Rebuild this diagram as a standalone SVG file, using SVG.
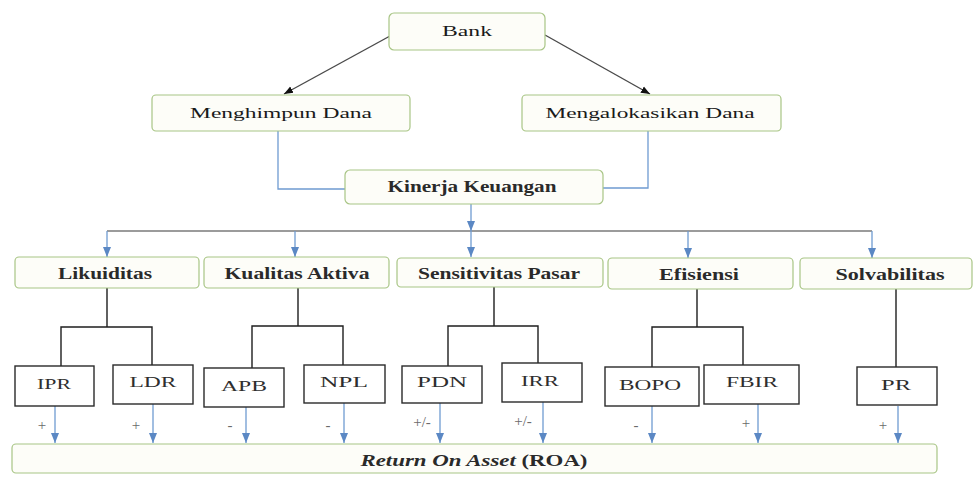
<svg xmlns="http://www.w3.org/2000/svg" width="976" height="477" viewBox="0 0 976 477" font-family="'Liberation Serif', 'Times New Roman', serif">
<defs>
<style>
.nb{fill:#fdfdf8;stroke:#a8c585;stroke-width:1.2}
.sq{fill:#ffffff;stroke:#2a2a2a;stroke-width:1.4}
text{text-anchor:middle}
.t{font-size:15px;fill:#1a1a1a}
.tb{font-size:16px;font-weight:bold;fill:#2a2a2a}
.tc{font-size:15px;fill:#2e2e2e}
.sg{font-size:15px;fill:#6a6a6a}
.blue{fill:none;stroke:#6f9bd1;stroke-width:1.3}
.grey{fill:none;stroke:#7a7a7a;stroke-width:1.5}
.blk{fill:none;stroke:#1e1e1e;stroke-width:1.4}
.dk{fill:none;stroke:#4a4a4a;stroke-width:1.4}
</style>
<marker id="ab" markerUnits="userSpaceOnUse" markerWidth="10" markerHeight="10" viewBox="0 0 10 10" refX="10" refY="5" orient="auto">
<path d="M0,1 L10,5 L0,9 Z" fill="#5b88c4"/>
</marker>
<marker id="ak" markerUnits="userSpaceOnUse" markerWidth="9" markerHeight="9" viewBox="0 0 10 10" refX="10" refY="5" orient="auto">
<path d="M0,1 L10,5 L0,9 Z" fill="#111"/>
</marker>
</defs>
<rect width="976" height="477" fill="#ffffff"/>

<g id="connectors">
<line class="dk" x1="390" y1="36" x2="284" y2="94" marker-end="url(#ak)"/>
<line class="dk" x1="545" y1="35" x2="650" y2="94" marker-end="url(#ak)"/>
<path class="blue" d="M278,131 V189 H345"/>
<path class="blue" d="M648,131 V188 H603"/>
<path class="grey" d="M107,231 H872"/>
<path class="blue" d="M471,204 V231" marker-end="url(#ab)"/>
<path class="blue" d="M471,231 V257" marker-end="url(#ab)"/>
<path class="blue" d="M107,231 V257" marker-end="url(#ab)"/>
<path class="blue" d="M295,231 V257" marker-end="url(#ab)"/>
<path class="blue" d="M688,231 V258" marker-end="url(#ab)"/>
<path class="blue" d="M872,231 V258" marker-end="url(#ab)"/>
<path class="blk" d="M107,288 V327 M61,366 V327 H152 V365"/>
<path class="blk" d="M298,288 V326 M252,368 V326 H343 V365"/>
<path class="blk" d="M494,287 V326 M448,366 V326 H538 V363"/>
<path class="blk" d="M697,289 V327 M652,367 V327 H743 V365"/>
<path class="blk" d="M896,289 V367"/>
<path class="blue" d="M55,406 V443" marker-end="url(#ab)"/>
<path class="blue" d="M153,404 V443" marker-end="url(#ab)"/>
<path class="blue" d="M246,407 V443" marker-end="url(#ab)"/>
<path class="blue" d="M344,403 V443" marker-end="url(#ab)"/>
<path class="blue" d="M440,403 V443" marker-end="url(#ab)"/>
<path class="blue" d="M543,402 V443" marker-end="url(#ab)"/>
<path class="blue" d="M652,406 V443" marker-end="url(#ab)"/>
<path class="blue" d="M758,404 V443" marker-end="url(#ab)"/>
<path class="blue" d="M898,406 V443" marker-end="url(#ab)"/>
</g>

<g id="signs">
<text class="sg" x="42" y="430">+</text>
<text class="sg" x="136" y="430">+</text>
<text class="sg" x="230" y="430">-</text>
<text class="sg" x="328" y="430">-</text>
<text class="sg" x="422" y="427">+/-</text>
<text class="sg" x="523" y="426">+/-</text>
<text class="sg" x="636" y="430">-</text>
<text class="sg" x="746" y="428">+</text>
<text class="sg" x="883" y="430">+</text>
</g>

<g id="bank"><rect class="nb" x="389" y="13" width="156" height="37" rx="5"/><text class="t" x="467" y="36" textLength="50" lengthAdjust="spacingAndGlyphs">Bank</text></g>
<g id="menghimpun"><rect class="nb" x="152" y="95" width="258" height="36" rx="4"/><text class="t" x="281" y="118" textLength="182" lengthAdjust="spacingAndGlyphs">Menghimpun Dana</text></g>
<g id="mengalokasikan"><rect class="nb" x="522" y="95" width="259" height="36" rx="4"/><text class="t" x="650" y="118" textLength="209" lengthAdjust="spacingAndGlyphs">Mengalokasikan Dana</text></g>
<g id="kinerja"><rect class="nb" x="345" y="170" width="258" height="34" rx="5"/><text class="tb" x="472" y="192" textLength="169" lengthAdjust="spacingAndGlyphs">Kinerja Keuangan</text></g>

<g id="likuiditas"><rect class="nb" x="15" y="257" width="184" height="31" rx="4"/><text class="tb" x="105" y="279" textLength="94" lengthAdjust="spacingAndGlyphs">Likuiditas</text></g>
<g id="kualitas"><rect class="nb" x="204" y="257" width="185" height="31" rx="4"/><text class="tb" x="297" y="279" textLength="145" lengthAdjust="spacingAndGlyphs">Kualitas Aktiva</text></g>
<g id="sensitivitas"><rect class="nb" x="397" y="258" width="206" height="29" rx="4"/><text class="tb" x="499" y="279" textLength="162" lengthAdjust="spacingAndGlyphs">Sensitivitas Pasar</text></g>
<g id="efisiensi"><rect class="nb" x="608" y="258" width="185" height="31" rx="4"/><text class="tb" x="699" y="280" textLength="80" lengthAdjust="spacingAndGlyphs">Efisiensi</text></g>
<g id="solvabilitas"><rect class="nb" x="800" y="258" width="172" height="31" rx="4"/><text class="tb" x="890" y="280" textLength="109" lengthAdjust="spacingAndGlyphs">Solvabilitas</text></g>

<g id="ipr"><rect class="sq" x="15" y="366" width="79" height="40"/><text class="tc" x="54" y="389" textLength="34" lengthAdjust="spacingAndGlyphs">IPR</text></g>
<g id="ldr"><rect class="sq" x="113" y="365" width="80" height="39"/><text class="tc" x="153" y="387" textLength="47" lengthAdjust="spacingAndGlyphs">LDR</text></g>
<g id="apb"><rect class="sq" x="204" y="368" width="80" height="39"/><text class="tc" x="244" y="391" textLength="46" lengthAdjust="spacingAndGlyphs">APB</text></g>
<g id="npl"><rect class="sq" x="304" y="365" width="81" height="38"/><text class="tc" x="344" y="387" textLength="48" lengthAdjust="spacingAndGlyphs">NPL</text></g>
<g id="pdn"><rect class="sq" x="402" y="366" width="80" height="37"/><text class="tc" x="442" y="387" textLength="50" lengthAdjust="spacingAndGlyphs">PDN</text></g>
<g id="irr"><rect class="sq" x="502" y="363" width="80" height="39"/><text class="tc" x="540" y="386" textLength="38" lengthAdjust="spacingAndGlyphs">IRR</text></g>
<g id="bopo"><rect class="sq" x="605" y="367" width="94" height="39"/><text class="tc" x="650" y="390" textLength="62" lengthAdjust="spacingAndGlyphs">BOPO</text></g>
<g id="fbir"><rect class="sq" x="704" y="365" width="95" height="39"/><text class="tc" x="752" y="387" textLength="52" lengthAdjust="spacingAndGlyphs">FBIR</text></g>
<g id="pr"><rect class="sq" x="857" y="367" width="80" height="38"/><text class="tc" x="896" y="390" textLength="30" lengthAdjust="spacingAndGlyphs">PR</text></g>

<g id="roa"><rect class="nb" x="12" y="444" width="925" height="29" rx="4"/><text class="tb" x="474" y="466" textLength="227" lengthAdjust="spacingAndGlyphs"><tspan font-style="italic">Return On Asset</tspan> (ROA)</text></g>
</svg>
